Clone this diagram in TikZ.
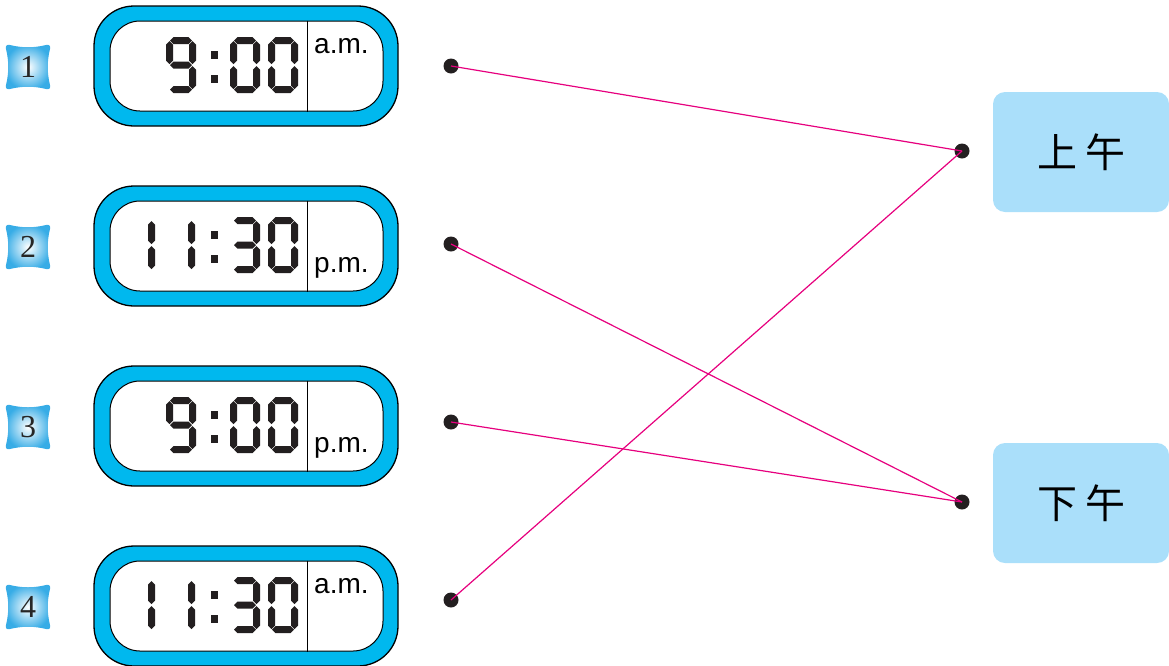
\documentclass[tikz,border=0pt]{standalone}
\usepackage{fontspec}
\setmainfont{Liberation Serif}
\setsansfont{Liberation Sans}
\newfontfamily\cjk{Noto Sans CJK SC}
\usetikzlibrary{positioning}

\definecolor{lcdblue}{RGB}{0,184,238}
\definecolor{linepink}{RGB}{230,0,126}
\definecolor{boxblue}{RGB}{170,223,250}
\definecolor{badgeblue}{RGB}{55,172,230}
\definecolor{segblack}{RGB}{35,31,32}

% lcd segments
\newcommand{\hseg}[2]{\fill[segblack] (#1,#2) -- ++(3.5,-3.5) -- ++(15,0) -- ++(3.5,3.5) -- ++(-3.5,3.5) -- ++(-15,0) -- cycle;}
\newcommand{\vseg}[2]{\fill[segblack] (#1,#2) -- ++(3.5,3.5) -- ++(0,16) -- ++(-3.5,3.5) -- ++(-3.5,-3.5) -- ++(0,-16) -- cycle;}
\newcommand{\lcdsa}{\hseg{4}{3.5}}
\newcommand{\lcdsg}{\hseg{4}{28}}
\newcommand{\lcdsd}{\hseg{4}{52.5}}
\newcommand{\lcdsf}{\vseg{3.5}{4}}
\newcommand{\lcdsb}{\vseg{26.5}{4}}
\newcommand{\lcdse}{\vseg{3.5}{29}}
\newcommand{\lcdsc}{\vseg{26.5}{29}}
\newcommand{\lcddigit}[2]{\begin{scope}[shift={(#1,-29)}]\foreach \s in {#2}{\csname lcds\s\endcsname}\end{scope}}
\newcommand{\lcdcolon}{\fill[segblack] (211,-15) rectangle (218,-7); \fill[segblack] (211,9) rectangle (218,17);}
% badge
\newcommand{\badgeshape}{\shade[inner color=white,outer color=badgeblue]
  (10,-22) .. controls (22,-19) and (34,-19) .. (46,-22) .. controls (49,-23) and (51,-21) .. (50,-18)
  .. controls (47,-6) and (47,6) .. (50,18) .. controls (51,21) and (49,23) .. (46,22)
  .. controls (34,19) and (22,19) .. (10,22) .. controls (7,23) and (5,21) .. (6,18)
  .. controls (9,6) and (9,-6) .. (6,-18) .. controls (5,-21) and (7,-23) .. (10,-22) -- cycle;}

\begin{document}
\begin{tikzpicture}[x=1pt,y=-1pt,
    clockouter/.style={draw=black,line width=1.3pt,fill=lcdblue,rounded corners=40pt,minimum width=304,minimum height=120},
    clockinner/.style={draw=black,line width=1pt,fill=white,rounded corners=30pt,minimum width=273,minimum height=90},
    ampm/.style={font=\sffamily\fontsize{28}{30}\selectfont,inner sep=0pt,anchor=base west},
    dot/.style={circle,fill=segblack,inner sep=0pt,minimum size=15},
    timebox/.style={fill=boxblue,rounded corners=12pt,minimum width=176,minimum height=120,font=\cjk\fontsize{40}{44}\selectfont},
    badgenum/.style={font=\fontsize{32}{34}\selectfont,inner sep=0pt,text=black!85},
    match/.style={linepink,line width=1.2pt}]
  \useasboundingbox (0,0) rectangle (1169,665);

  % clock 1
  \begin{scope}[shift={(0,66)}]
    \begin{scope}[yshift=-1pt]\badgeshape\end{scope}
    \node[badgenum] (b1) at (28,1) {1};
    \node[clockouter] (c1) at (246,0) {};
    \node[clockinner] (w1) at (246.5,0) {};
    \draw[line width=1pt] ([xshift=60.5pt]w1.north) -- ([xshift=60.5pt]w1.south);
    \lcddigit{166}{a,b,c,d,f,g}
    \lcdcolon
    \lcddigit{230}{a,b,c,d,e,f}
    \lcddigit{268}{a,b,c,d,e,f}
    \node[ampm] (t1) at (314,-13) {a.m.};
  \end{scope}

  % clock 2
  \begin{scope}[shift={(0,246)}]
    \begin{scope}[yshift=-1pt]\badgeshape\end{scope}
    \node[badgenum] (b2) at (28,1) {2};
    \node[clockouter] (c2) at (246,0) {};
    \node[clockinner] (w2) at (246.5,0) {};
    \draw[line width=1pt] ([xshift=60.5pt]w2.north) -- ([xshift=60.5pt]w2.south);
    \lcddigit{125}{b,c}
    \lcddigit{165}{b,c}
    \lcdcolon
    \lcddigit{230}{a,b,c,d,g}
    \lcddigit{268}{a,b,c,d,e,f}
    \node[ampm] (t2) at (314,26) {p.m.};
  \end{scope}

  % clock 3
  \begin{scope}[shift={(0,426)}]
    \begin{scope}[yshift=-1pt]\badgeshape\end{scope}
    \node[badgenum] (b3) at (28,1) {3};
    \node[clockouter] (c3) at (246,0) {};
    \node[clockinner] (w3) at (246.5,0) {};
    \draw[line width=1pt] ([xshift=60.5pt]w3.north) -- ([xshift=60.5pt]w3.south);
    \lcddigit{166}{a,b,c,d,f,g}
    \lcdcolon
    \lcddigit{230}{a,b,c,d,e,f}
    \lcddigit{268}{a,b,c,d,e,f}
    \node[ampm] (t3) at (314,26) {p.m.};
  \end{scope}

  % clock 4
  \begin{scope}[shift={(0,606)}]
    \begin{scope}[yshift=-1pt]\badgeshape\end{scope}
    \node[badgenum] (b4) at (28,1) {4};
    \node[clockouter] (c4) at (246,0) {};
    \node[clockinner] (w4) at (246.5,0) {};
    \draw[line width=1pt] ([xshift=60.5pt]w4.north) -- ([xshift=60.5pt]w4.south);
    \lcddigit{125}{b,c}
    \lcddigit{165}{b,c}
    \lcdcolon
    \lcddigit{230}{a,b,c,d,g}
    \lcddigit{268}{a,b,c,d,e,f}
    \node[ampm] (t4) at (314,-13) {a.m.};
  \end{scope}

  % answer boxes
  \node[timebox] (am) at (1081,152) {上\hspace{8pt}午};
  \node[timebox] (pm) at (1081,503) {下\hspace{8pt}午};

  % dots
  \node[dot] (l1) at (451,66) {};
  \node[dot] (l2) at (451,244) {};
  \node[dot] (l3) at (451,422) {};
  \node[dot] (l4) at (451,600) {};
  \node[dot] (ram) at (962,151) {};
  \node[dot] (rpm) at (962,502) {};

  % matching lines
  \draw[match] (l1.center) -- (ram.center);
  \draw[match] (l2.center) -- (rpm.center);
  \draw[match] (l3.center) -- (rpm.center);
  \draw[match] (l4.center) -- (ram.center);
\end{tikzpicture}
\end{document}
